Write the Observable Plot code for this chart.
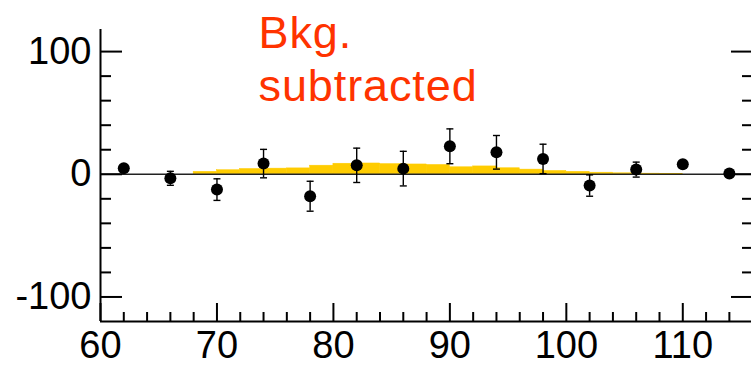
<!DOCTYPE html>
<html><head><meta charset="utf-8">
<script src="https://cdn.jsdelivr.net/npm/d3@7"></script>
<script src="https://cdn.jsdelivr.net/npm/@observablehq/plot@0.6"></script>
<style>body{margin:0;background:#fff;} svg{display:block;}</style>
</head><body><div id="chart"></div>
<script>
// ---- data ----
const pointX   = [62, 66, 70, 74, 78, 82, 86, 90, 94, 98, 102, 106, 110, 114];
const pointY   = [5, -3.3, -12.5, 8.7, -17.9, 7.3, 4.6, 22.8, 17.9, 12.5, -9.2, 3.8, 8.2, 0.6];
const pointErr = [2, 5.7, 8.8, 11.6, 12.2, 14, 14.1, 14.2, 13.7, 12, 8.7, 6.1, 3, 1];

const binStart = [68, 70, 72, 74, 76, 78, 80, 82, 84, 86, 88, 90, 92, 94, 96, 98, 100, 102, 104, 106, 108];
const binValue = [2.0, 3.3, 4.3, 4.6, 4.8, 7.0, 8.6, 8.8, 8.3, 8.0, 7.6, 5.7, 6.4, 4.9, 3.8, 2.7, 2.0, 1.3, 0.8, 0.5, 0.3];
const binWidth = 2;

const xMajorTicks = [60, 70, 80, 90, 100, 110];
const xMinorTicks = [62, 64, 66, 68, 72, 74, 76, 78, 82, 84, 86, 88, 92, 94, 96, 98, 102, 104, 106, 108, 112, 114];
const yMajorTicks = [-100, 0, 100];
const yMinorTicks = [-80, -60, -40, -20, 20, 40, 60, 80];
const annotation = "Bkg.\nsubtracted";

// ---- tables built from the arrays ----
const points = pointX.map((x, i) => ({x, y: pointY[i], lo: pointY[i] - pointErr[i], hi: pointY[i] + pointErr[i]}));
const bins = binStart.map((x, i) => ({x1: x, x2: x + binWidth, y: binValue[i]}));

const capSymbol = {draw(ctx) { ctx.moveTo(-3.5, 0); ctx.lineTo(3.5, 0); }};
const font = "'Liberation Sans', Arial, Helvetica, sans-serif";

const chart = Plot.plot({
  width: 751,
  height: 365,
  marginLeft: 100,
  marginRight: 0,
  marginTop: 29,
  marginBottom: 44,
  style: {fontFamily: font, background: "#fff", color: "#000"},
  x: {domain: [60, 115.9], axis: null},
  y: {domain: [-120, 118], axis: null},
  marks: [
    Plot.rectY(bins, {x1: "x1", x2: "x2", y: "y", fill: "#ffcc00", stroke: "#ffcc00", strokeWidth: 0.5}),
    Plot.ruleY([0], {stroke: "#222", strokeWidth: 1.4}),
    Plot.ruleX(points, {x: "x", y1: "lo", y2: "hi", stroke: "#000", strokeWidth: 1.4}),
    Plot.dot(points, {x: "x", y: "lo", symbol: capSymbol, stroke: "#000", fill: "none", strokeWidth: 1.4}),
    Plot.dot(points, {x: "x", y: "hi", symbol: capSymbol, stroke: "#000", fill: "none", strokeWidth: 1.4}),
    Plot.dot(points, {x: "x", y: "y", r: 6, fill: "#000", stroke: "none"}),
    // frame lines
    Plot.ruleX([60], {stroke: "#000", strokeWidth: 2}),
    Plot.ruleY([-120], {stroke: "#000", strokeWidth: 2}),
    // inward ticks
    Plot.axisY(yMajorTicks, {anchor: "left", tickSize: -22, fill: "none", strokeWidth: 2, label: null}),
    Plot.axisY(yMinorTicks, {anchor: "left", tickSize: -11, fill: "none", strokeWidth: 2, label: null}),
    Plot.axisY(yMajorTicks, {anchor: "right", tickSize: -21, fill: "none", strokeWidth: 2, label: null}),
    Plot.axisY(yMinorTicks, {anchor: "right", tickSize: -10, fill: "none", strokeWidth: 2, label: null}),
    Plot.axisX(xMajorTicks, {anchor: "bottom", tickSize: -18, fill: "none", strokeWidth: 2, label: null}),
    Plot.axisX(xMinorTicks, {anchor: "bottom", tickSize: -9, fill: "none", strokeWidth: 2, label: null}),
    // tick labels
    Plot.axisY(yMajorTicks, {anchor: "left", tickSize: 0, tickPadding: 9, fontSize: 38, label: null, tickFormat: d => String(d)}),
    Plot.axisX(xMajorTicks, {anchor: "bottom", tickSize: 0, tickPadding: 10, fontSize: 38, label: null, tickFormat: d => String(d)}),
    // annotation
    Plot.text([annotation], {frameAnchor: "top-left", dx: 158, dy: -19, lineAnchor: "top", textAnchor: "start",
      fontSize: 45, lineHeight: 1.18, fill: "#ff3300"})
  ]
});
d3.select(chart).selectAll("text")
  .filter(function() { return this.textContent.includes("Bkg"); })
  .attr("letter-spacing", "0.9")
  .style("letter-spacing", "0.9px");
document.getElementById("chart").appendChild(chart);
</script>
</body></html>
